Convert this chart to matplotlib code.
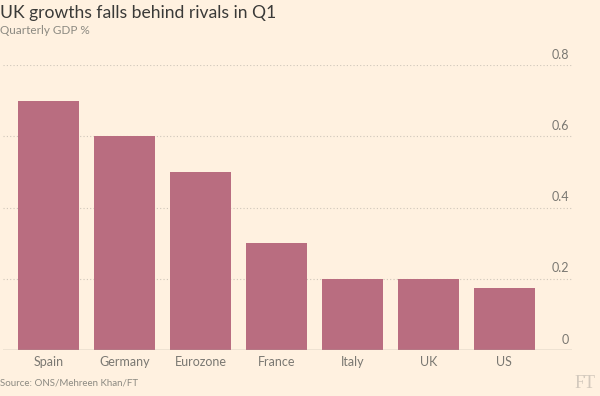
import matplotlib
matplotlib.use("Agg")
import matplotlib.pyplot as plt
from matplotlib.transforms import blended_transform_factory

categories = ["Spain", "Germany", "Eurozone", "France", "Italy", "UK", "US"]
values = [0.70, 0.60, 0.50, 0.30, 0.20, 0.20, 0.175]
yticks = [0, 0.2, 0.4, 0.6, 0.8]
ytick_labels = ["0", "0.2", "0.4", "0.6", "0.8"]

bg = "#FFF1E0"
bar_color = "#B96D80"
grey = "#7A7872"

plt.rcParams['font.family'] = ['Lato', 'DejaVu Sans']

W, H = 600, 396
fig = plt.figure(figsize=(W/100, H/100), dpi=100, facecolor=bg)
ax = fig.add_axes([3/W, (H-350)/H, (572-3)/W, (350-65)/H])
ax.set_facecolor(bg)

x = list(range(len(categories)))
ax.bar(x, values, width=0.8, color=bar_color, zorder=2)
ax.set_xlim(-0.6, len(categories) - 1 + 0.89)
ax.set_ylim(0, 0.8)

for s in ax.spines.values():
    s.set_visible(False)
ax.axhline(0, color="#A9A69C", lw=1, zorder=3)
for v in yticks[1:]:
    ax.axhline(v, color="#CFC6BA", lw=0.8, ls=(0, (1, 2)), zorder=1)

trans = blended_transform_factory(ax.transAxes, ax.transData)
for v, lab in zip(yticks, ytick_labels):
    ax.text(0.995, v + 0.012, lab, transform=trans, ha="right", va="bottom",
            color=grey, fontsize=9, clip_on=False)

ax.set_yticks([])
ax.set_xticks(x)
ax.set_xticklabels(categories, color=grey, fontsize=9)
ax.tick_params(axis="x", length=0, pad=4)

fig.text(0, 1 - 13/H, "UK growths falls behind rivals in Q1", ha="left", va="center",
         fontsize=12.6, color="#3A3A38")
fig.text(0, 1 - 31/H, "Quarterly GDP %", ha="left", va="center",
         fontsize=8.5, color="#8C8A82")
fig.text(0, 1 - 383/H, "Source: ONS/Mehreen Khan/FT", ha="left", va="center",
         fontsize=7, color="#8C8A82")
fig.text(596/W, 1 - 384/H, "FT", ha="right", va="center", fontsize=13,
         color="#D3C9BD", family=["Liberation Serif", "DejaVu Serif"])

fig.savefig("out.png", dpi=100, facecolor=bg)
